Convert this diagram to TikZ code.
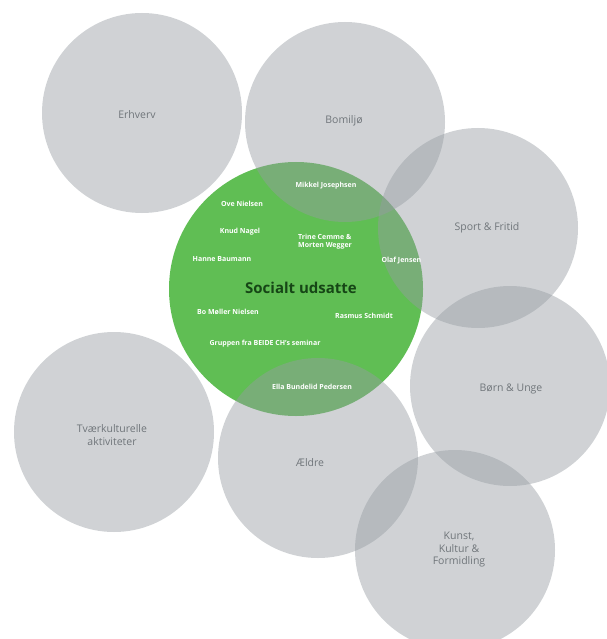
\documentclass[tikz,border=0pt]{standalone}
\usepackage{fontspec}
\setmainfont{Open Sans}
\definecolor{bub}{RGB}{150,156,162}
\definecolor{grn}{RGB}{96,190,84}
\definecolor{lbl}{RGB}{112,117,122}
\definecolor{dgrn}{RGB}{22,70,22}
\tikzset{
  x=1pt, y=-1pt,
  graybub/.style={circle, fill=bub, fill opacity=0.45, draw=none, minimum size=200pt, inner sep=0pt},
  greenbub/.style={circle, fill=grn, draw=none, minimum size=254pt, inner sep=0pt},
  lab/.style={text=lbl, font=\fontsize{10.5}{12.5}\selectfont, align=center},
  nm/.style={text=white, font=\bfseries\fontsize{7}{8.2}\selectfont, align=left},
  title/.style={text=dgrn, font=\bfseries\fontsize{15}{17}\selectfont}
}
\begin{document}
\begin{tikzpicture}
\useasboundingbox (0,0) rectangle (606,639);
\node[greenbub] (soc) at (296,289) {};
\node[graybub] (erh) at (142,113) {};
\node[graybub] (bom) at (345,122) {};
\node[graybub] (spo) at (478,228) {};
\node[graybub] (bor) at (510,386) {};
\node[graybub] (tva) at (114,432) {};
\node[graybub] (ael) at (318,458) {};
\node[graybub] (kun) at (455,550) {};
% gray labels
\node[lab] (terh) at (137,115) {Erhverv};
\node[lab] (tbom) at (344,121) {Bomiljø};
\node[lab] (tspo) at (487,228) {Sport \& Fritid};
\node[lab] (tbor) at (511,389) {Børn \& Unge};
\node[lab] (ttva) at (112,435) {Tværkulturelle\\aktiviteter};
\node[lab] (tael) at (310,463) {Ældre};
\node[lab] (tkun) at (459,550) {Kunst,\\Kultur \&\\Formidling};
% green content
\node[title] (tsoc) at (301,288) {Socialt udsatte};
\node[nm] (n1) at (326,186) {Mikkel Josephsen};
\node[nm] (n2) at (242,204) {Ove Nielsen};
\node[nm] (n3) at (240,232) {Knud Nagel};
\node[nm] (n4) at (325,242) {Trine Cemme \&\\Morten Wegger};
\node[nm] (n5) at (222,259) {Hanne Baumann};
\node[nm, anchor=west] (n6) at (378,261) {Olaf Jensen};
\node[nm] (n7) at (228,312) {Bo Møller Nielsen};
\node[nm] (n8) at (364,316) {Rasmus Schmidt};
\node[nm] (n9) at (265,344) {Gruppen fra BEIDE CH's seminar};
\node[nm] (n10) at (312,387) {Ella Bundelid Pedersen};
\end{tikzpicture}
\end{document}
